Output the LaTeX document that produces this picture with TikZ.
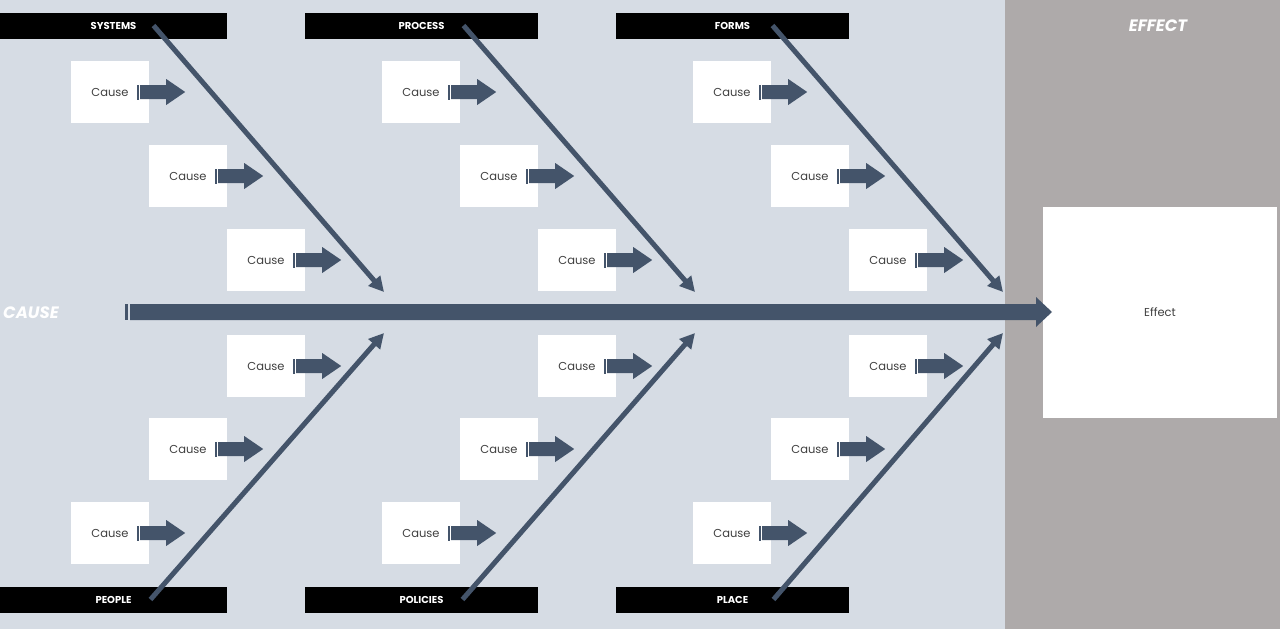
\documentclass[tikz,border=0pt]{standalone}
\usepackage{fontspec}
\setmainfont{Poppins}
\usetikzlibrary{arrows.meta}
\definecolor{bgblue}{HTML}{D6DCE4}
\definecolor{bggray}{HTML}{AEAAAA}
\definecolor{bone}{HTML}{44546A}
\definecolor{ctext}{HTML}{404040}
\tikzset{
  header/.style={fill=black, text=white, font=\fontsize{10}{12}\selectfont\bfseries, minimum width=233, minimum height=26, inner sep=0},
  causebox/.style={fill=white, text=ctext, font=\fontsize{11.5}{13}\selectfont, minimum width=78, minimum height=62, inner sep=0},
  bigword/.style={text=white, font=\fontsize{16.5}{18}\selectfont\bfseries\itshape, inner sep=0},
  diag/.style={draw=bone, line width=5pt, -{Triangle[length=15pt,width=15pt]}},
  pics/carrow/.style={code={
    \fill[bone] (-12,-7.5) rectangle (-10,7.5);
    \fill[bone] (-9,-7) -- (17,-7) -- (17,-13) -- (36,0) -- (17,13) -- (17,7) -- (-9,7) -- cycle;
  }}
}
\begin{document}
\begin{tikzpicture}[x=1pt,y=-1pt]
\useasboundingbox (0,0) rectangle (1280,629);
\fill[bgblue] (0,0) rectangle (1005,629);
\fill[bggray] (1005,0) rectangle (1280,629);

% headers
\node[header, minimum width=227] (systems) at (113.5,25.5) {SYSTEMS};
\node[header] (process) at (421.5,25.5) {PROCESS};
\node[header] (forms) at (732.5,25.5) {FORMS};
\node[header, minimum width=227] (people) at (113.5,599.5) {PEOPLE};
\node[header] (policies) at (421.5,599.5) {POLICIES};
\node[header] (place) at (732.5,599.5) {PLACE};

% cause boxes
\foreach \c/\dx in {a/0,b/311,c/622}{
  \node[causebox] (\c1) at (110+\dx,92) {Cause};
  \node[causebox] (\c2) at (188+\dx,176) {Cause};
  \node[causebox] (\c3) at (266+\dx,260) {Cause};
  \node[causebox] (\c4) at (266+\dx,366) {Cause};
  \node[causebox] (\c5) at (188+\dx,449) {Cause};
  \node[causebox] (\c6) at (110+\dx,533) {Cause};
  \foreach \i in {1,...,6}{ \pic at (\c\i.east) {carrow}; }
}

% effect box
\node[causebox, minimum width=234, minimum height=211] (effect) at (1160,312.5) {Effect};

% spine
\coordinate (spS) at (130,312);
\coordinate (spE) at (1052,312);
\fill[bone] (125,304) rectangle (127.5,320);
\fill[bone] (130,304) -- (1036,304) -- (1036,297) -- (spE) -- (1036,327) -- (1036,320) -- (130,320) -- cycle;

% junction coordinates
\coordinate (j1t) at (384,292);
\coordinate (j1b) at (384,333);
\coordinate (j2t) at (695,292);
\coordinate (j2b) at (695,333);
\coordinate (j3t) at (1003,292);
\coordinate (j3b) at (1003,333);

% bones
\draw[diag] ([xshift=40]systems.center) -- (j1t);
\draw[diag] ([xshift=42]process.center) -- (j2t);
\draw[diag] ([xshift=40]forms.center) -- (j3t);
\draw[diag] ([xshift=37]people.center) -- (j1b);
\draw[diag] ([xshift=41]policies.center) -- (j2b);
\draw[diag] ([xshift=41]place.center) -- (j3b);

% labels
\node[bigword, anchor=west] (cause) at (3,313) {CAUSE};
\node[bigword] (effectlbl) at (1158,26) {EFFECT};
\end{tikzpicture}
\end{document}
